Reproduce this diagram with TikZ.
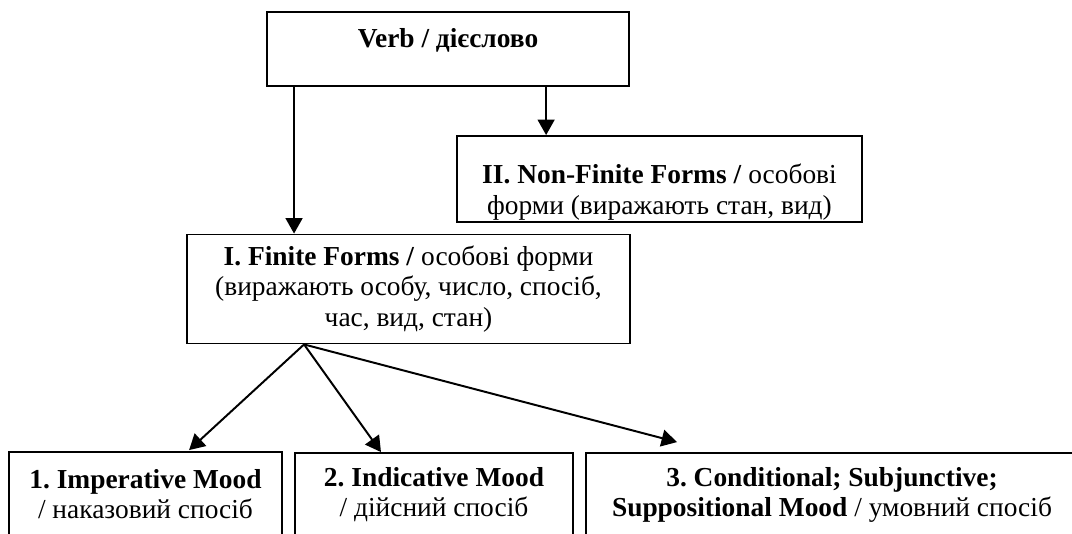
\documentclass[tikz,border=0pt]{standalone}
\usepackage{fontspec}
\setmainfont{Liberation Serif}
\usetikzlibrary{arrows.meta}
\frenchspacing

\tikzset{
  caja/.style={draw,line width=1.3pt,rectangle,align=center,inner sep=0pt},
  flecha/.style={-{Triangle[length=11pt,width=12pt]},line width=1.4pt}
}

\begin{document}
\begin{tikzpicture}[x=0.025cm,y=-0.025cm,every node/.style={font=\fontsize{19.5}{21.5}\selectfont}]
    \useasboundingbox (0,0) rectangle (1072,533);

    % Cajas
    \node[caja,minimum width=9.05cm,minimum height=1.85cm] (verbo) at (448,49)
        {\textbf{Verb / дієслово}\rule[-0.55cm]{0pt}{0.55cm}};
    \node[caja,minimum width=10.125cm,minimum height=2.15cm] (nofinita) at (659.5,179)
        {\rule{0pt}{1.15cm}\textbf{II. Non-Finite Forms /} особові\\ форми (виражають стан, вид)};
    \node[caja,minimum width=11.075cm,minimum height=2.725cm] (finita) at (408.5,289)
        {\textbf{I. Finite Forms /} особові форми\\ (виражають особу, число, спосіб,\\ час, вид, стан)};

    % Способи
    \node[caja,minimum width=6.825cm,minimum height=2.1cm] (modo1) at (145.5,494)
        {\textbf{1. Imperative Mood}\\ / наказовий спосіб};
    \node[caja,minimum width=6.95cm,minimum height=2.1cm] (modo2) at (434,495)
        {\textbf{2. Indicative Mood}\\ / дійсний спосіб};
    \node[caja,minimum width=12.3cm,minimum height=2.1cm] (modo3) at (832,495)
        {\textbf{3. Conditional; Subjunctive;}\\ \textbf{Suppositional Mood} / умовний спосіб};

    % Flechas
    \coordinate (v1) at ([xshift=0.7cm]verbo.south west);
    \coordinate (v2) at ([xshift=7cm]verbo.south west);
    \coordinate (vertice) at ([xshift=2.95cm]finita.south west);
    \draw[flecha] (v1) -- (v1 |- finita.north);
    \draw[flecha] (v2) -- (v2 |- nofinita.north);
    \draw[flecha] (vertice) -- ([xshift=1.09cm,yshift=0.025cm]modo1.north);
    \draw[flecha] (vertice) -- ([xshift=-1.325cm]modo2.north);
    \draw[flecha] (vertice) -- ([xshift=2.3cm,yshift=0.25cm]modo3.north west);
\end{tikzpicture}
\end{document}
